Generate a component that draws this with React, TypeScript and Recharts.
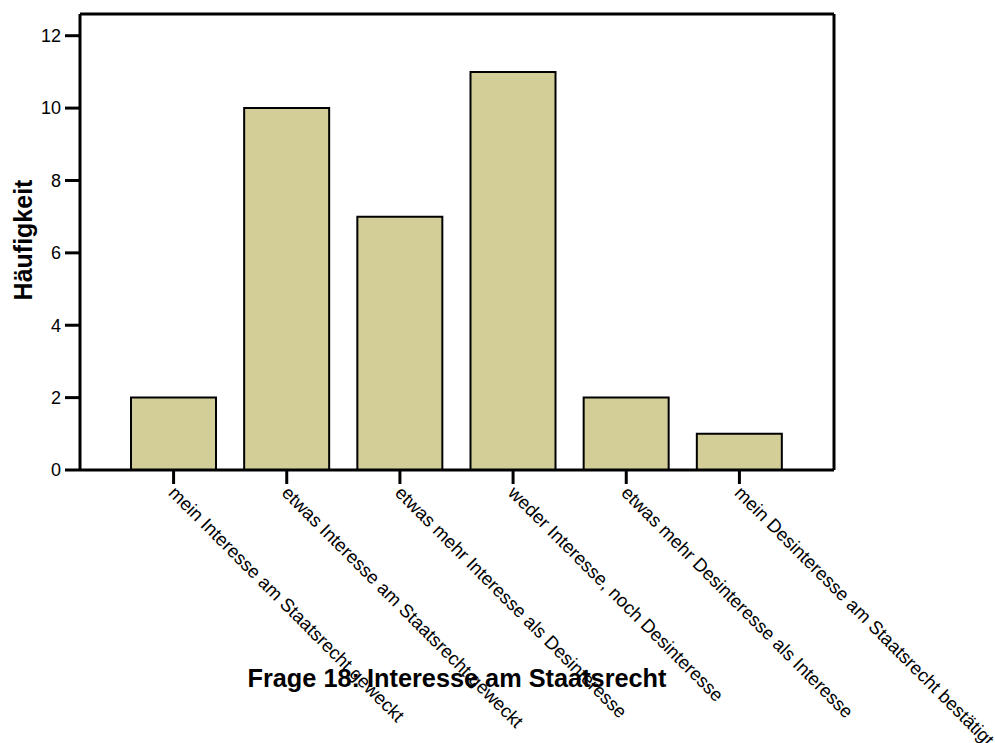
import React from 'react';
import { ComposedChart, Bar, Line, XAxis, YAxis } from 'recharts';

const categories = [
  'mein Interesse am Staatsrecht geweckt',
  'etwas Interesse am Staatsrecht geweckt',
  'etwas mehr Interesse als Desinteresse',
  'weder Interesse, noch Desinteresse',
  'etwas mehr Desinteresse als Interesse',
  'mein Desinteresse am Staatsrecht bestätigt',
];
const counts = [2, 10, 7, 11, 2, 1];
const yTicks = [0, 2, 4, 6, 8, 10, 12];
const title = 'Frage 18: Interesse am Staatsrecht';
const yTitle = 'Häufigkeit';

const data = categories.map((c, i) => ({ cat: c, n: counts[i] }));

const FONT = '"Liberation Sans", Arial, Helvetica, sans-serif';

const XTick = (props: any) => {
  const { x, y, payload } = props;
  const tx = x - 6;
  const ty = y + 10;
  return (
    <text
      x={tx}
      y={ty}
      transform={`rotate(45 ${tx} ${ty})`}
      textAnchor="start"
      fontFamily={FONT}
      fontSize={18.5}
      fill="#000"
    >
      {payload.value}
    </text>
  );
};

const YLabel = () => (
  <text
    x={32}
    y={240}
    transform="rotate(-90 32 240)"
    textAnchor="middle"
    fontFamily={FONT}
    fontSize={25}
    fontWeight="bold"
    fill="#000"
  >
    {yTitle}
  </text>
);

export default function App() {
  return (
    <div style={{ position: 'absolute', left: 0, top: 0, width: 995, height: 743, background: '#fff' }}>
      <ComposedChart
        width={995}
        height={743}
        data={data}
        margin={{ top: 13, right: 160, bottom: 73, left: 0 }}
        barSize={85}
      >
        <XAxis
          dataKey="cat"
          xAxisId="top"
          orientation="top"
          height={1}
          tick={false}
          tickLine={false}
          axisLine={{ stroke: '#000', strokeWidth: 3 }}
          padding={{ left: 37, right: 38 }}
        />
        <YAxis
          yAxisId="right"
          orientation="right"
          width={1}
          tick={false}
          tickLine={false}
          axisLine={{ stroke: '#000', strokeWidth: 3 }}
          domain={[0, 12.6]}
        />
        <XAxis
          dataKey="cat"
          interval={0}
          height={200}
          tickSize={14}
          tickMargin={0}
          tick={<XTick />}
          tickLine={{ stroke: '#000', strokeWidth: 3 }}
          axisLine={{ stroke: '#000', strokeWidth: 3 }}
          padding={{ left: 37, right: 38 }}
        />
        <YAxis
          width={80}
          domain={[0, 12.6]}
          ticks={yTicks}
          interval={0}
          tickSize={15}
          tickMargin={4}
          tick={{ fill: '#000', fontFamily: FONT, fontSize: 18 }}
          tickLine={{ stroke: '#000', strokeWidth: 3 }}
          axisLine={{ stroke: '#000', strokeWidth: 3 }}
          label={<YLabel />}
        />
        <Bar
          dataKey="n"
          fill="#D3CE98"
          stroke="#000"
          strokeWidth={2}
          isAnimationActive={false}
        />
        <Line
          xAxisId="top"
          yAxisId="right"
          dataKey="n"
          stroke="transparent"
          strokeWidth={0}
          dot={false}
          activeDot={false}
          legendType="none"
          isAnimationActive={false}
        />
        <text
          x={457}
          y={687}
          textAnchor="middle"
          fontFamily={FONT}
          fontSize={25.3}
          fontWeight="bold"
          fill="#000"
        >
          {title}
        </text>
      </ComposedChart>
    </div>
  );
}
